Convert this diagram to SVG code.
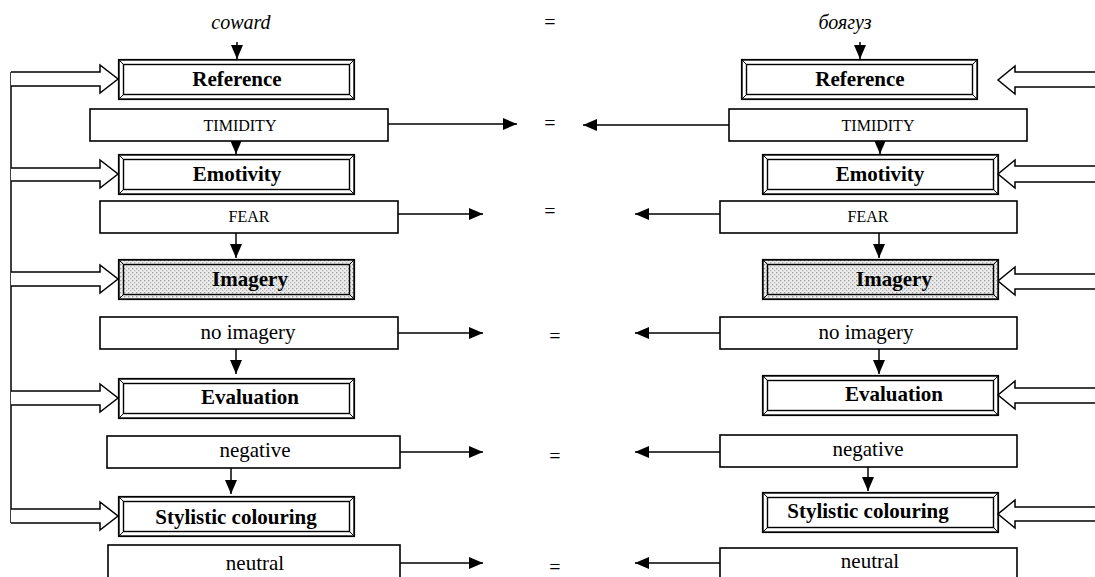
<svg xmlns="http://www.w3.org/2000/svg" xmlns:xlink="http://www.w3.org/1999/xlink" width="1095" height="577" viewBox="0 0 1095 577">
<style>
text{font-family:"Liberation Serif","Times New Roman",serif;fill:#000}
.t{font-size:21px;font-weight:bold;text-anchor:middle}
.v{font-size:21px;text-anchor:middle}
.c{font-size:16px;text-anchor:middle}
.w{font-size:20px;font-style:italic;text-anchor:middle}
.eq{font-size:20px;text-anchor:middle}
.box{fill:#fff;stroke:#000;stroke-width:1.6}
.ln{fill:none;stroke:#000;stroke-width:1.5}
.ha{fill:#fff;stroke:#000;stroke-width:1.5}
</style>
<defs>
<marker id="ah" viewBox="0 0 14 12" refX="14" refY="6" markerWidth="14" markerHeight="12" markerUnits="userSpaceOnUse" orient="auto"><path d="M0,0 L14,6 L0,12 z" fill="#000"/></marker>
<pattern id="dots" width="4" height="4" patternUnits="userSpaceOnUse"><rect width="4" height="4" fill="#ececec"/><rect x="0" y="0" width="1.3" height="1.3" fill="#9a9a9a"/><rect x="2" y="2" width="1.3" height="1.3" fill="#b5b5b5"/></pattern>
<g id="frame" fill="none" stroke="#000">
<rect x="0.8" y="0.8" width="235.4" height="39.4" stroke-width="1.8"/>
<rect x="5.5" y="5.5" width="226" height="30" stroke-width="1.4"/>
<path d="M1,1 L5.5,5.5 M236,1 L231.5,5.5 M1,40 L5.5,35.5 M236,40 L231.5,35.5" stroke-width="1"/>
</g>
</defs>
<rect width="1095" height="577" fill="#fff"/>

<g id="connectors">
<path class="ln" d="M11,72 V523"/>
<path class="ha" d="M11,72 H100 V65 L118,79 L100,93 V86 H11"/>
<path class="ha" d="M11,168 H100 V160 L118,174 L100,188 V181 H11"/>
<path class="ha" d="M11,272 H100 V265 L118,279 L100,293 V286 H11"/>
<path class="ha" d="M11,391 H100 V384 L118,398 L100,412 V405 H11"/>
<path class="ha" d="M11,509 H100 V502 L118,516 L100,530 V523 H11"/>
<path class="ha" d="M1096,72 H1015 V66 L998,80 L1015,94 V87 H1096"/>
<path class="ha" d="M1096,166 H1015 V160 L998,174 L1015,188 V182 H1096"/>
<path class="ha" d="M1096,274 H1015 V267 L998,281 L1015,295 V289 H1096"/>
<path class="ha" d="M1096,388 H1015 V381 L998,395 L1015,409 V403 H1096"/>
<path class="ha" d="M1096,507 H1015 V500 L998,514 L1015,528 V521 H1096"/>
<path class="ln" d="M237,42 V59" marker-end="url(#ah)"/>
<path class="ln" d="M236,141 V154" marker-end="url(#ah)"/>
<path class="ln" d="M236,233 V258" marker-end="url(#ah)"/>
<path class="ln" d="M236,349 V374" marker-end="url(#ah)"/>
<path class="ln" d="M231,468 V494" marker-end="url(#ah)"/>
<path class="ln" d="M860,42 V59" marker-end="url(#ah)"/>
<path class="ln" d="M880,141 V154" marker-end="url(#ah)"/>
<path class="ln" d="M879,233 V258" marker-end="url(#ah)"/>
<path class="ln" d="M879,349 V374" marker-end="url(#ah)"/>
<path class="ln" d="M868,467 V491" marker-end="url(#ah)"/>
<path class="ln" d="M388,124 H517" marker-end="url(#ah)"/>
<path class="ln" d="M729,125 H583" marker-end="url(#ah)"/>
<path class="ln" d="M398,214 H483" marker-end="url(#ah)"/>
<path class="ln" d="M720,214 H635" marker-end="url(#ah)"/>
<path class="ln" d="M398,333 H483" marker-end="url(#ah)"/>
<path class="ln" d="M720,333 H635" marker-end="url(#ah)"/>
<path class="ln" d="M400,452 H483" marker-end="url(#ah)"/>
<path class="ln" d="M720,452 H635" marker-end="url(#ah)"/>
<path class="ln" d="M400,563 H483" marker-end="url(#ah)"/>
<path class="ln" d="M720,563 H635" marker-end="url(#ah)"/>
</g>

<g id="labels">
<text class="w" x="241" y="29">coward</text>
<text class="w" x="845" y="29">боягуз</text>
<text class="eq" x="550" y="29">=</text>
<text class="eq" x="550" y="130">=</text>
<text class="eq" x="550" y="218">=</text>
<text class="eq" x="555" y="343">=</text>
<text class="eq" x="555" y="463">=</text>
<text class="eq" x="555" y="574">=</text>
</g>

<g id="l-reference"><use xlink:href="#frame" x="118" y="59"/><text class="t" x="237" y="86">Reference</text></g>
<g id="l-timidity"><rect class="box" x="90" y="109" width="298" height="32"/><text class="c" x="240" y="131">TIMIDITY</text></g>
<g id="l-emotivity"><use xlink:href="#frame" x="118" y="154"/><text class="t" x="237" y="181">Emotivity</text></g>
<g id="l-fear"><rect class="box" x="100" y="201" width="298" height="32"/><text class="c" x="249" y="222">FEAR</text></g>
<g id="l-imagery"><rect x="119" y="260" width="235" height="38" fill="url(#dots)"/><use xlink:href="#frame" x="118" y="259"/><text class="t" x="250" y="286">Imagery</text></g>
<g id="l-noimagery"><rect class="box" x="100" y="317" width="298" height="32"/><text class="v" x="248" y="339">no imagery</text></g>
<g id="l-evaluation"><use xlink:href="#frame" x="118" y="378"/><text class="t" x="250" y="404">Evaluation</text></g>
<g id="l-negative"><rect class="box" x="107" y="436" width="293" height="32"/><text class="v" x="255" y="457">negative</text></g>
<g id="l-stylistic"><use xlink:href="#frame" x="118" y="496"/><text class="t" x="236" y="524">Stylistic colouring</text></g>
<g id="l-neutral"><rect class="box" x="108" y="545" width="292" height="40"/><text class="v" x="255" y="570">neutral</text></g>

<g id="r-reference"><use xlink:href="#frame" x="741" y="59"/><text class="t" x="860" y="86">Reference</text></g>
<g id="r-timidity"><rect class="box" x="729" y="109" width="298" height="32"/><text class="c" x="878" y="131">TIMIDITY</text></g>
<g id="r-emotivity"><use xlink:href="#frame" x="762" y="154"/><text class="t" x="880" y="181">Emotivity</text></g>
<g id="r-fear"><rect class="box" x="720" y="201" width="297" height="32"/><text class="c" x="868" y="222">FEAR</text></g>
<g id="r-imagery"><rect x="763" y="260" width="235" height="38" fill="url(#dots)"/><use xlink:href="#frame" x="762" y="259"/><text class="t" x="894" y="286">Imagery</text></g>
<g id="r-noimagery"><rect class="box" x="720" y="317" width="297" height="32"/><text class="v" x="866" y="339">no imagery</text></g>
<g id="r-evaluation"><use xlink:href="#frame" x="762" y="375"/><text class="t" x="894" y="401">Evaluation</text></g>
<g id="r-negative"><rect class="box" x="720" y="435" width="297" height="32"/><text class="v" x="868" y="456">negative</text></g>
<g id="r-stylistic"><use xlink:href="#frame" x="762" y="492"/><text class="t" x="868" y="518">Stylistic colouring</text></g>
<g id="r-neutral"><rect class="box" x="720" y="548" width="297" height="40"/><text class="v" x="870" y="568">neutral</text></g>
</svg>
